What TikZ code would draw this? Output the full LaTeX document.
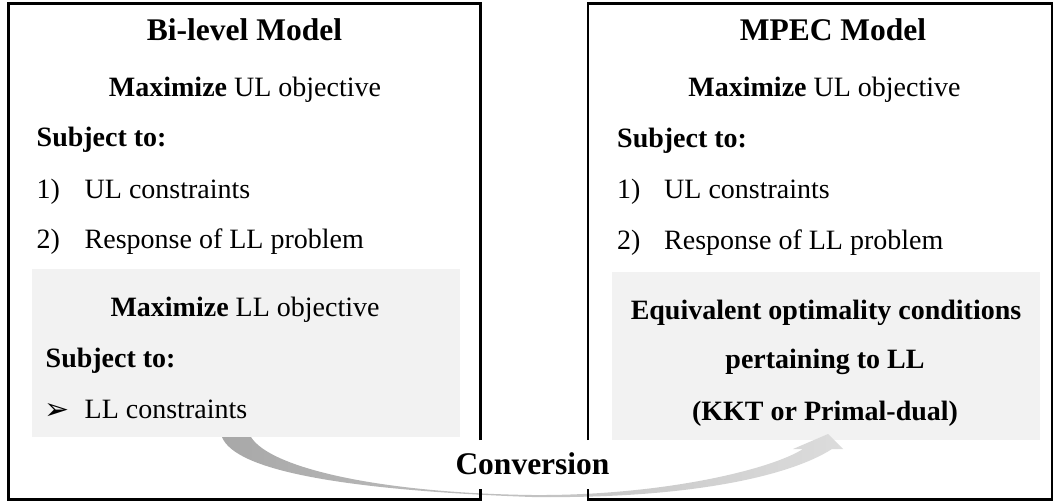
\documentclass[tikz,border=0pt]{standalone}
\usepackage{fontspec}
\setmainfont{Liberation Serif}
\newfontfamily\symfont{DejaVu Sans}
\definecolor{panelgray}{HTML}{F2F2F2}
\definecolor{swooshdark}{HTML}{A8A8A8}
\definecolor{swooshlight}{HTML}{DCDCDC}
\tikzset{
  boxline/.style={line width=2.5pt, line join=miter, line cap=butt, draw=black},
  panel/.style={fill=panelgray, draw=none, inner sep=0pt, anchor=north west},
  txt/.style={font=\fontsize{28}{32}\selectfont, inner sep=0pt, anchor=base},
  txtl/.style={txt, anchor=base west},
  ttl/.style={font=\fontsize{31.5}{36}\selectfont\bfseries, inner sep=0pt, anchor=base},
}
\begin{document}
\begin{tikzpicture}[x=1pt, y=-1pt]
\useasboundingbox (0,0) rectangle (1054,503);

% shaded inner panels
\node[panel, minimum width=428pt, minimum height=168pt] (llpanel) at (32,269) {};
\node[panel, minimum width=428pt, minimum height=168pt] (eqpanel) at (612,272) {};

% curved conversion arrow from the lower-level panel to the optimality panel
\shade[left color=swooshdark, right color=swooshlight]
  (222,437) .. controls (235,470) and (340,490) .. (532,497)
  .. controls (690,499) and (790,476) .. (832,449)
  -- (843,449) -- (828,434) -- (793,449) -- (803,449)
  .. controls (770,470) and (660,496) .. (532,495)
  .. controls (380,493) and (270,468) .. (251,437) -- cycle;

% outer frames, open where the arrow passes
\draw[boxline] (480.5,440) -- (480.5,3.5) -- (8.5,3.5) -- (8.5,499.5) -- (480.5,499.5) -- (480.5,489);
\draw[boxline] (588,440) -- (588,3.5) -- (1052,3.5) -- (1052,499.5) -- (588,499.5) -- (588,489);

% bi-level model
\node[ttl] (bltitle) at (244.5,41) {Bi-level Model};
\node[txt] (ulobj) at (245,96) {\textbf{Maximize} UL objective};
\node[txtl] (st1) at (36.5,146) {\textbf{Subject to:}};
\node[txtl] (n1) at (36.5,198) {1)};
\node[txtl] (ulc) at (84.5,198) {UL constraints};
\node[txtl] (n2) at (36.5,248) {2)};
\node[txtl] (resp) at (84.5,248) {Response of LL problem};
\node[txt] (llobj) at (245,316) {\textbf{Maximize} LL objective};
\node[txtl] (st2) at (45.5,367) {\textbf{Subject to:}};
\node[txtl, font=\fontsize{30}{34}\selectfont\symfont] (bul) at (44,419) {➢};
\node[txtl] (llc) at (84.5,418) {LL constraints};

% MPEC model
\node[ttl] (mptitle) at (833,41) {MPEC Model};
\node[txt] (ulobjb) at (824.5,96) {\textbf{Maximize} UL objective};
\node[txtl] (st3) at (617,147) {\textbf{Subject to:}};
\node[txtl] (m1) at (617,198) {1)};
\node[txtl] (ulcb) at (664,198) {UL constraints};
\node[txtl] (m2) at (617,249) {2)};
\node[txtl] (respb) at (664,249) {Response of LL problem};
\node[txt, font=\fontsize{28}{32}\selectfont\bfseries] (eq1) at (826,319) {Equivalent optimality conditions};
\node[txt, font=\fontsize{28}{32}\selectfont\bfseries] (eq2) at (825,368) {pertaining to LL};
\node[txt, font=\fontsize{28}{32}\selectfont\bfseries] (eq3) at (825,420) {(KKT or Primal-dual)};

% arrow label
\node[ttl] (conv) at (532.5,474) {Conversion};
\end{tikzpicture}
\end{document}
